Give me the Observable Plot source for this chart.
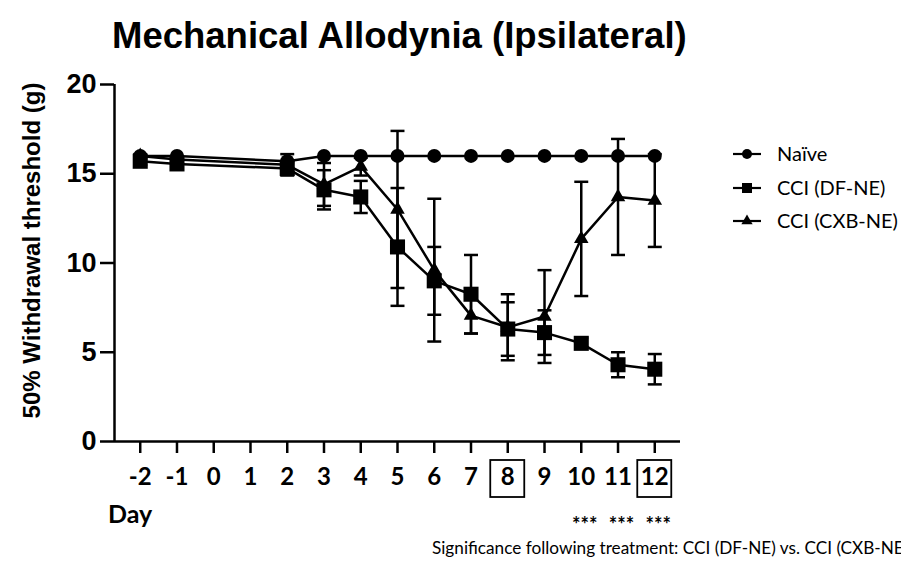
<!DOCTYPE html>
<html>
<head>
<meta charset="utf-8">
<script src="https://cdn.jsdelivr.net/npm/d3@7"></script>
<script src="https://cdn.jsdelivr.net/npm/@observablehq/plot@0.6"></script>
<style>
  html, body { margin: 0; padding: 0; background: #fff; }
  #chart { width: 901px; height: 561px; overflow: hidden; }
</style>
</head>
<body>
<div id="chart"></div>
<script>
// ---- data ----
const days = [-2, -1, 2, 3, 4, 5, 6, 7, 8, 9, 10, 11, 12];
const naiveMean = [16, 16, 15.7, 16, 16, 16, 16, 16, 16, 16, 16, 16, 16];
const naiveSem  = [0, 0, 0, 0, 0, 0, 0, 0, 0, 0, 0, 0, 0];
const dfMean  = [15.7, 15.55, 15.3, 14.1, 13.7, 10.9, 9.0, 8.25, 6.3, 6.1, 5.5, 4.3, 4.05];
const dfSem   = [0.2, 0.25, 0.35, 1.1, 0.9, 3.3, 1.9, 2.2, 1.5, 1.25, 0.3, 0.7, 0.85];
const cxbMean = [16.0, 15.8, 15.5, 14.4, 15.4, 13.0, 9.6, 7.05, 6.4, 7.0, 11.35, 13.7, 13.5];
const cxbSem  = [0.1, 0.2, 0.6, 1.2, 0.5, 4.4, 4.0, 1.0, 1.85, 2.6, 3.2, 3.25, 2.6];
const seriesNames = ["Naïve", "CCI (DF-NE)", "CCI (CXB-NE)"];
const seriesSymbols = ["circle", "square", "triangle"];
const dayTicks = [-2, -1, 0, 1, 2, 3, 4, 5, 6, 7, 8, 9, 10, 11, 12];
const boxedTicks = [8, 12];
const yTicks = [0, 5, 10, 15, 20];
const significantDays = [10, 11, 12];
const significanceMark = "***";
const titleText = "Mechanical Allodynia (Ipsilateral)";
const yLabelText = "50% Withdrawal threshold (g)";
const xLabelText = "Day";
const noteText = "Significance following treatment: CCI (DF-NE) vs. CCI (CXB-NE)";

// ---- table built from the arrays ----
const means = [naiveMean, dfMean, cxbMean];
const sems = [naiveSem, dfSem, cxbSem];
const rows = [];
seriesNames.forEach((s, i) => {
  days.forEach((d, j) => {
    rows.push({series: s, day: d, mean: means[i][j], sem: sems[i][j],
               lo: means[i][j] - sems[i][j], hi: means[i][j] + sems[i][j]});
  });
});
const errRows = rows.filter(r => r.sem > 0);

const xDomain = [-2.7, 12.7];
const capHalf = 0.19;
const symR = {"circle": 7, "square": 8.5, "triangle": 5.4};

const plot = Plot.plot({
  width: 901,
  height: 561,
  marginLeft: 114,
  marginRight: 221,
  marginTop: 84,
  marginBottom: 120,
  style: {background: "white", color: "black", overflow: "visible"},
  x: {domain: xDomain},
  y: {domain: [0, 20]},
  marks: [
    Plot.ruleX([xDomain[0]], {y1: 0, y2: 20, stroke: "black", strokeWidth: 2.5}),
    Plot.ruleY([0], {x1: xDomain[0], x2: xDomain[1], stroke: "black", strokeWidth: 2.5}),
    Plot.axisY({ticks: yTicks, tickSize: 14, tickPadding: 4, fontSize: 27, fontWeight: "bold",
                fontFamily: "Liberation Sans, Arial, sans-serif", strokeWidth: 2.5, label: null}),
    Plot.axisX({ticks: dayTicks, tickSize: 12, tickPadding: 14, fontSize: 24, fontWeight: "bold",
                fontFamily: "Lato, sans-serif", strokeWidth: 2.5, label: null, tickFormat: d => String(d)}),
    // error bars
    Plot.ruleX(errRows, {x: "day", y1: "lo", y2: "hi", stroke: "black", strokeWidth: 2.5}),
    Plot.link(errRows, {x1: d => d.day - capHalf, x2: d => d.day + capHalf, y1: "hi", y2: "hi", stroke: "black", strokeWidth: 2.5}),
    Plot.link(errRows, {x1: d => d.day - capHalf, x2: d => d.day + capHalf, y1: "lo", y2: "lo", stroke: "black", strokeWidth: 2.5}),
    // lines
    Plot.line(rows, {x: "day", y: "mean", z: "series", stroke: "black", strokeWidth: 2.5}),
    // markers
    ...seriesNames.map((s, i) => Plot.dot(rows.filter(r => r.series === s),
      {x: "day", y: "mean", symbol: seriesSymbols[i], r: symR[seriesSymbols[i]], fill: "black", stroke: "none"}))
  ]
});

document.getElementById("chart").appendChild(plot);
const svg = d3.select(plot);
const xs = plot.scale("x");
const ys = plot.scale("y");
const X = v => xs.apply(v);
const Y = v => ys.apply(v);

// title
svg.append("text")
  .attr("x", 112).attr("y", 48)
  .attr("text-anchor", "start")
  .attr("font-family", "Liberation Sans, Arial, sans-serif")
  .attr("font-weight", "bold").attr("font-size", 36.5)
  .attr("fill", "black")
  .text(titleText);

// y label
svg.append("text")
  .attr("transform", `translate(40,${(Y(0) + Y(20)) / 2 - 12}) rotate(-90)`)
  .attr("text-anchor", "middle")
  .attr("font-family", "Liberation Sans, Arial, sans-serif")
  .attr("font-weight", "bold").attr("font-size", 24)
  .attr("fill", "black")
  .text(yLabelText);

// x label
svg.append("text")
  .attr("x", 108).attr("y", 523)
  .attr("text-anchor", "start")
  .attr("font-family", "Lato, sans-serif")
  .attr("font-weight", "bold").attr("font-size", 25)
  .attr("fill", "black")
  .text(xLabelText);

// boxes around selected tick labels
boxedTicks.forEach(t => {
  svg.append("rect")
    .attr("x", X(t) - 17).attr("y", 460)
    .attr("width", 34).attr("height", 37)
    .attr("fill", "none").attr("stroke", "black").attr("stroke-width", 1.8);
});

// significance stars
significantDays.forEach(t => {
  svg.append("text")
    .attr("x", X(t) + 4).attr("y", 532)
    .attr("text-anchor", "middle")
    .attr("font-family", "Lato, sans-serif")
    .attr("font-weight", "bold").attr("font-size", 20)
    .attr("fill", "black")
    .text(significanceMark);
});

// note (runs off the right edge, as in the reference)
svg.append("text")
  .attr("x", 432).attr("y", 554)
  .attr("text-anchor", "start")
  .attr("font-family", "Lato, sans-serif")
  .attr("font-size", 17.2)
  .attr("fill", "black")
  .text(noteText);

// legend
const legendY = [154, 188, 221];
seriesNames.forEach((s, i) => {
  const g = svg.append("g").attr("transform", `translate(747,${legendY[i]})`);
  g.append("line").attr("x1", -14).attr("x2", 14).attr("y1", 0).attr("y2", 0)
    .attr("stroke", "black").attr("stroke-width", 2.2);
  const sym = {circle: d3.symbolCircle, square: d3.symbolSquare, triangle: d3.symbolTriangle}[seriesSymbols[i]];
  const size = {circle: Math.PI * 25, square: 100, triangle: 55}[seriesSymbols[i]];
  g.append("path").attr("d", d3.symbol(sym, size)()).attr("fill", "black");
  g.append("text")
    .attr("x", 30).attr("y", 0).attr("dy", "0.35em")
    .attr("text-anchor", "start")
    .attr("font-family", "Lato, sans-serif")
    .attr("font-size", 20)
    .attr("fill", "black")
    .text(s);
});
</script>
</body>
</html>
